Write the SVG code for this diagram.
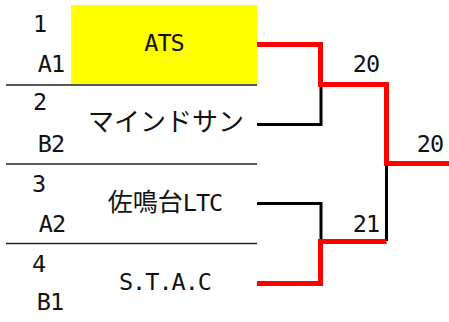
<svg xmlns="http://www.w3.org/2000/svg" width="449" height="322" viewBox="0 0 449 322">
<style>
  text { font-family: "DejaVu Sans Mono", "Noto Sans CJK JP", monospace; font-size: 23.5px; fill: #111; text-anchor: middle; }
  .cjk { font-family: "Noto Sans CJK JP", "DejaVu Sans Mono", sans-serif; font-weight: 400; }
  .sep { stroke: #222; stroke-width: 1.5; fill: none; }
  .win { stroke: #ff0000; stroke-width: 5; fill: none; stroke-linejoin: miter; stroke-linecap: butt; }
  .lose { stroke: #000; stroke-width: 3; fill: none; }
</style>
<rect x="71" y="5" width="186" height="79" fill="#ffff00"/>
<g id="separators">
  <line class="sep" x1="6" y1="85" x2="257" y2="85"/>
  <line class="sep" x1="6" y1="164" x2="257" y2="164"/>
  <line class="sep" x1="6" y1="243.5" x2="257" y2="243.5"/>
</g>
<g id="team1">
  <text x="40" y="32">1</text>
  <text x="51" y="72" letter-spacing="-1">A1</text>
  <text x="164" y="51" letter-spacing="-1">ATS</text>
</g>
<g id="team2">
  <text x="40" y="110">2</text>
  <text x="51" y="152" letter-spacing="-1">B2</text>
  <text class="cjk" x="166" y="131" style="font-size:26px">マインドサン</text>
</g>
<g id="team3">
  <text x="39" y="192">3</text>
  <text x="52" y="232" letter-spacing="-1">A2</text>
  <text x="165" y="211" letter-spacing="-1"><tspan class="cjk" style="font-size:25px" letter-spacing="0">佐鳴台</tspan>LTC</text>
</g>
<g id="team4">
  <text x="39" y="272">4</text>
  <text x="50" y="310" letter-spacing="-1">B1</text>
  <text x="165" y="290" letter-spacing="-1">S.T.A.C</text>
</g>
<g id="connectors">
  <path class="lose" d="M257,124.5 H321 V84"/>
  <path class="lose" d="M257,203.5 H321 V241"/>
  <path class="lose" d="M386.5,163 V241"/>
  <path class="win" d="M257,44.5 H320.5 V84.5 H386.5 V163.5 H449"/>
  <path class="win" d="M257,283.5 H320.5 V241.5 H386.5"/>
</g>
<g id="scores">
  <text x="366" y="72" letter-spacing="-1">20</text>
  <text x="430" y="152" letter-spacing="-1">20</text>
  <text x="366" y="232" letter-spacing="-1">21</text>
</g>
</svg>
